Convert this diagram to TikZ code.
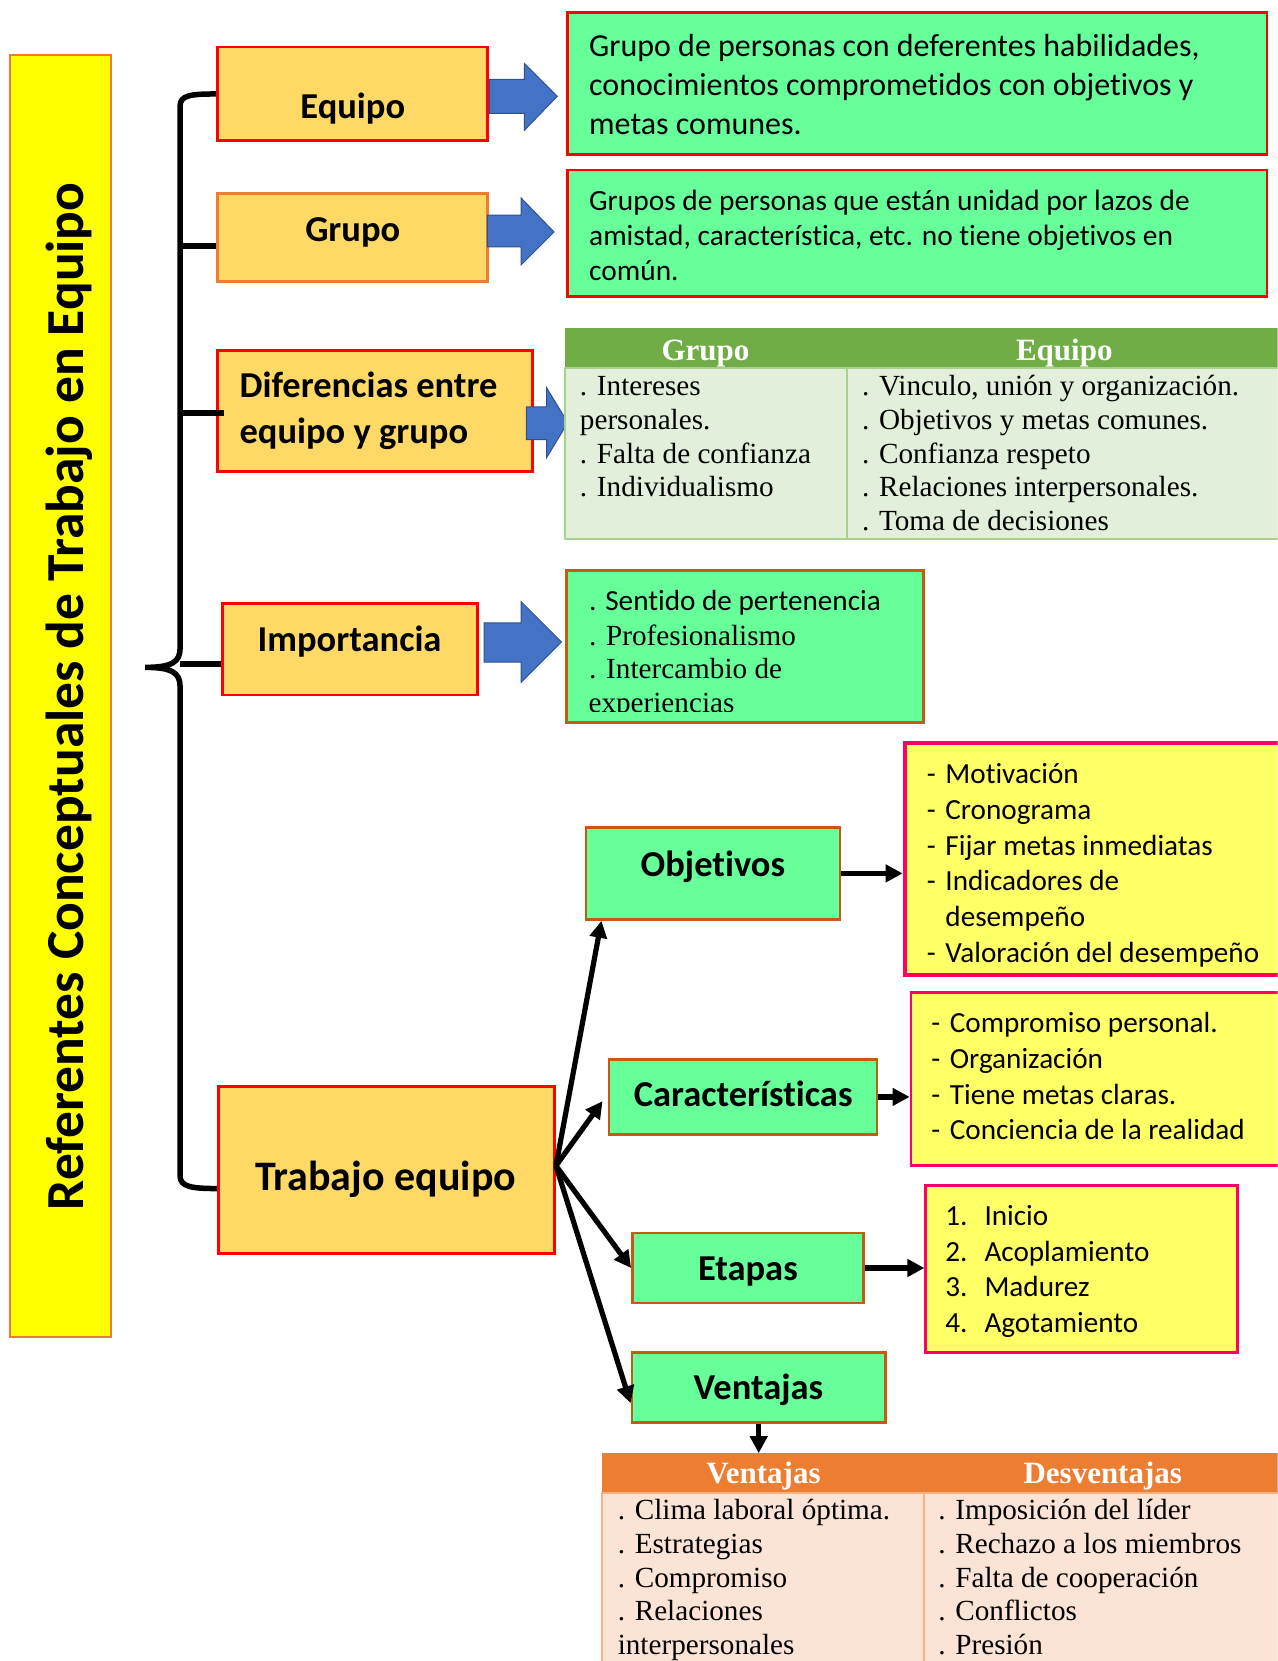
\documentclass[tikz,border=0pt]{standalone}
\usepackage{fontspec}
\setmainfont[Ligatures=NoCommon]{Carlito}
\newfontfamily\carlfont[Ligatures=NoCommon]{Carlito}
\newfontfamily\timesfont{Liberation Serif}
\usetikzlibrary{arrows.meta,fit,calc}
\definecolor{gold}{HTML}{FFD966}
\definecolor{mint}{HTML}{66FF99}
\definecolor{lyel}{HTML}{FFFF66}
\definecolor{pinkred}{HTML}{FF0066}
\definecolor{brownb}{HTML}{C55A11}
\definecolor{bluea}{HTML}{4472C4}
\definecolor{blueb}{HTML}{2F528F}
\definecolor{tgreen}{HTML}{70AD47}
\definecolor{tgreenl}{HTML}{E2EFDA}
\definecolor{tgreenb}{HTML}{A9D08E}
\definecolor{torange}{HTML}{ED7D31}
\definecolor{torangel}{HTML}{FBE4D5}
\definecolor{torangeb}{HTML}{F4B183}
\definecolor{titley}{HTML}{FFFF00}
\newcommand\fnTtl{\carlfont\bfseries\fontsize{36.5}{40}\selectfont}
\newcommand\fnBig{\carlfont\bfseries\fontsize{42}{46}\selectfont}
\newcommand\fnTitle{\carlfont\bfseries\fontsize{53.5}{60}\selectfont}
\newcommand\fnCA{\carlfont\fontsize{32}{38}\selectfont}
\newcommand\fnCB{\carlfont\fontsize{29.4}{35}\selectfont}
\newcommand\fnC{\carlfont\fontsize{29.2}{35}\selectfont}
\newcommand\fnT{\timesfont\fontsize{29.2}{34}\selectfont}
\newcommand\fnHdr{\timesfont\bfseries\fontsize{31}{34}\selectfont}
\tikzset{
  gbox/.style={fill=gold, draw=red, line width=2.8pt, inner sep=0pt},
  mbox/.style={fill=mint, draw=brownb, line width=2.6pt, inner sep=0pt},
  ybox/.style={fill=lyel, draw=pinkred, line width=2.8pt, inner sep=0pt},
  ttl/.style={anchor=base, inner sep=0pt, yshift=-2pt, font=\fnTtl},
  ln/.style={anchor=base west, inner sep=0pt, yshift=-2pt, font=#1},
  blk/.style={line width=5.2pt, -{Triangle[length=17pt,width=17pt]}},
  brace/.style={line width=5.5pt},
  barrow/.style={fill=bluea, draw=blueb, line width=1pt},
  hdr/.style={anchor=base, inner sep=0pt, yshift=-1pt, text=white, font=\fnHdr},
}
\begin{document}
\begin{tikzpicture}[x=1.0597pt,y=-1.0597pt]
\useasboundingbox (0,0) rectangle (1206,1568);
\clip (0,0) rectangle (1206,1568);
\fill[white] (0,0) rectangle (1206,1568);

% title
\node[fit={(9.5,52) (105,1262)}, fill=titley, draw=torange, line width=2pt, inner sep=0pt] (titlebox) {};
\node[rotate=90, anchor=base, inner sep=0pt, font=\fnTitle] (title) at (79,657.5) {Referentes Conceptuales de Trabajo en Equipo};

% left boxes
\node[gbox, fit={(205,44.4) (460,133)}] (equipo) {};
\node[gbox, draw=torange, fit={(205,183) (460,265.8)}] (grupo) {};
\node[gbox, fit={(205,331) (502.7,445)}] (diferencias) {};
\node[gbox, fit={(210,569.6) (450.7,656)}] (importancia) {};
\node[gbox, fit={(206,1026) (523.5,1183)}] (trabajo) {};
\node[ttl] (tequipo) at (333,110) {Equipo};
\node[ttl] (tgrupo) at (333,225.8) {Grupo};
\node[ln=\fnTtl] (tdif1) at (226,373.7) {Diferencias entre};
\node[ln=\fnTtl] (tdif2) at (226,416.8) {equipo y grupo};
\node[ttl] (timp) at (330,612.8) {Importancia};
\node[ttl, font=\fnBig] (ttrab) at (364,1122) {Trabajo equipo};

% brace
\draw[brace] (equipo.west) .. controls (180,88.7) and (170,90) .. (170,100) -- (170,612)
  .. controls (170,625) and (162,630) .. (137,630)
  .. controls (162,630) and (170,635) .. (170,648) -- (170,1110)
  .. controls (170,1120) and (180,1122) .. (trabajo.west |- 0,1122);
\draw[brace] (170,232) -- (grupo.west |- 0,232);
\draw[brace] (170,390) -- (211,390);
\draw[brace] (170,627) -- (importancia.west |- 0,627);

% blue block arrows
\filldraw[barrow] (462,75) -- (495,75) -- (495,60) -- (526,91) -- (495,123) -- (495,107) -- (462,107) -- cycle;
\filldraw[barrow] (460,203) -- (492,203) -- (492,187) -- (523,219) -- (492,250) -- (492,233) -- (460,233) -- cycle;
\filldraw[barrow] (497,384) -- (516,384) -- (516,366) -- (536,399) -- (516,432) -- (516,415) -- (497,415) -- cycle;
\filldraw[barrow] (457,588) -- (492,588) -- (492,568) -- (530,606) -- (492,644) -- (492,625) -- (457,625) -- cycle;

% definition boxes
\node[mbox, draw=red, line width=2.8pt, fit={(536,12) (1196,146)}] (defa) {};
\foreach \t [count=\i] in {{Grupo de personas con deferentes habilidades,},{conocimientos comprometidos con objetivos y},{metas comunes.}}
  \node[ln=\fnCA] (da\i) at (556,{51+(\i-1)*37}) {\t};
\node[mbox, draw=red, line width=2.8pt, fit={(536,160.4) (1196,280)}] (defb) {};
\foreach \t [count=\i] in {{Grupos de personas que están unidad por lazos de},{amistad, característica, etc. no tiene objetivos en},{común.}}
  \node[ln=\fnCB] (db\i) at (556,{196.7+(\i-1)*33}) {\t};

% table 1
\node[fit={(533,310) (1215,347)}, fill=tgreen, inner sep=0pt] (thead) {};
\node[fit={(533,347) (1215,508.6)}, fill=tgreenl, draw=tgreenb, line width=2pt, inner sep=0pt] (tbody) {};
\draw[tgreenb, line width=2pt] (800,347) -- (800,508.6);
\node[hdr] (hgrupo) at (666,339) {Grupo};
\node[hdr] (hequipo) at (1004.7,339) {Equipo};
\foreach \t [count=\i] in {. Intereses, personales., . Falta de confianza, . Individualismo}
  \node[ln=\fnT] (tl\i) at (547.3,{371.8+(\i-1)*31.8}) {\t};
\foreach \t [count=\i] in {{. Vinculo, unión y organización.}, . Objetivos y metas comunes., . Confianza respeto, . Relaciones interpersonales., . Toma de decisiones}
  \node[ln=\fnT] (tr\i) at (813.6,{371.8+(\i-1)*31.8}) {\t};

% importancia list
\node[mbox, fit={(535,538.5) (871.5,682)}] (implist) {};
\node[ln=\fnC] (im1) at (556,574.7) {. Sentido de pertenencia};
\node[ln=\fnT] (im2) at (556,607) {. Profesionalismo};
\node[ln=\fnT] (im3) at (556,639) {. Intercambio de};
\begin{scope}
\clip (536,540) rectangle (871,672);
\node[ln=\fnT] (im4) at (555.4,670.5) {experiencias};
\end{scope}

% trabajo equipo branches
\node[mbox, fit={(553,781) (793,868)}] (objetivos) {};
\node[mbox, fit={(575,1000) (828,1071)}] (caract) {};
\node[mbox, fit={(597,1164) (815,1230)}] (etapas) {};
\node[mbox, fit={(596.5,1276.5) (836,1342.6)}] (ventajas) {};
\node[ttl] (tobj) at (673,825.7) {Objetivos};
\node[ttl] (tcar) at (701.6,1043) {Características};
\node[ttl] (teta) at (706,1207) {Etapas};
\node[ttl] (tven) at (716,1319) {Ventajas};

\node[ybox, line width=4pt, fit={(854,701) (1225,920)}] (objlist) {};
\foreach \t [count=\i] in {Motivación, Cronograma, Fijar metas inmediatas, Indicadores de, desempeño, Valoración del desempeño}
  \node[ln=\fnC] (oa\i) at (892.3,{738+(\i-1)*33.7}) {\t};
\foreach \i in {1,2,3,4,6}
  \node[ln=\fnC] (od\i) at (874.8,{738+(\i-1)*33.7}) {-};

\node[ybox, fit={(860,937) (1225,1100)}] (carlist) {};
\foreach \t [count=\i] in {Compromiso personal., Organización, Tiene metas claras., Conciencia de la realidad}
  {\node[ln=\fnC] (ca\i) at (896.5,{973+(\i-1)*33.7}) {\t};
   \node[ln=\fnC] (cd\i) at (879,{973+(\i-1)*33.7}) {-};}

\node[ybox, fit={(874,1119) (1168,1277)}] (etalist) {};
\foreach \t [count=\i] in {Inicio, Acoplamiento, Madurez, Agotamiento}
  {\node[ln=\fnC] (ea\i) at (929.2,{1155+(\i-1)*33.6}) {\t};
   \node[ln=\fnC] (en\i) at (892.3,{1155+(\i-1)*33.6}) {\i.};}

% table 2
\node[fit={(568,1372) (1215,1409.5)}, fill=torange, inner sep=0pt] (vhead) {};
\node[fit={(568,1409.5) (1215,1590)}, fill=torangel, draw=torangeb, line width=2pt, inner sep=0pt] (vbody) {};
\draw[torangeb, line width=2pt] (872,1409.5) -- (872,1590);
\node[hdr] (hven) at (720.7,1399.6) {Ventajas};
\node[hdr] (hdes) at (1041,1399.6) {Desventajas};
\foreach \t [count=\i] in {. Clima laboral óptima., . Estrategias, . Compromiso, . Relaciones, interpersonales}
  \node[ln=\fnT] (vl\i) at (583,{1432.6+(\i-1)*31.9}) {\t};
\foreach \t [count=\i] in {. Imposición del líder, . Rechazo a los miembros, . Falta de cooperación, . Conflictos, . Presión}
  \node[ln=\fnT] (vr\i) at (885.6,{1432.6+(\i-1)*31.9}) {\t};

% connectors
\coordinate (hub) at ($(trabajo.east)+(0,-4)$);
\draw[blk] (hub) -- ($(objetivos.south west)+(16,0)$);
\draw[blk] (hub) -- ($(caract.west)+(-5,4)$);
\draw[blk] (hub) -- (etapas.west);
\draw[blk] (hub) -- ($(ventajas.west)+(0,15)$);
\draw[blk] (objetivos.east) -- (objetivos.east -| objlist.west);
\draw[blk] (caract.east) -- (caract.east -| carlist.west);
\draw[blk] (etapas.east) -- (etapas.east -| etalist.west);
\draw[blk] (ventajas.south) -- (ventajas.south |- vhead.north);
\end{tikzpicture}
\end{document}
